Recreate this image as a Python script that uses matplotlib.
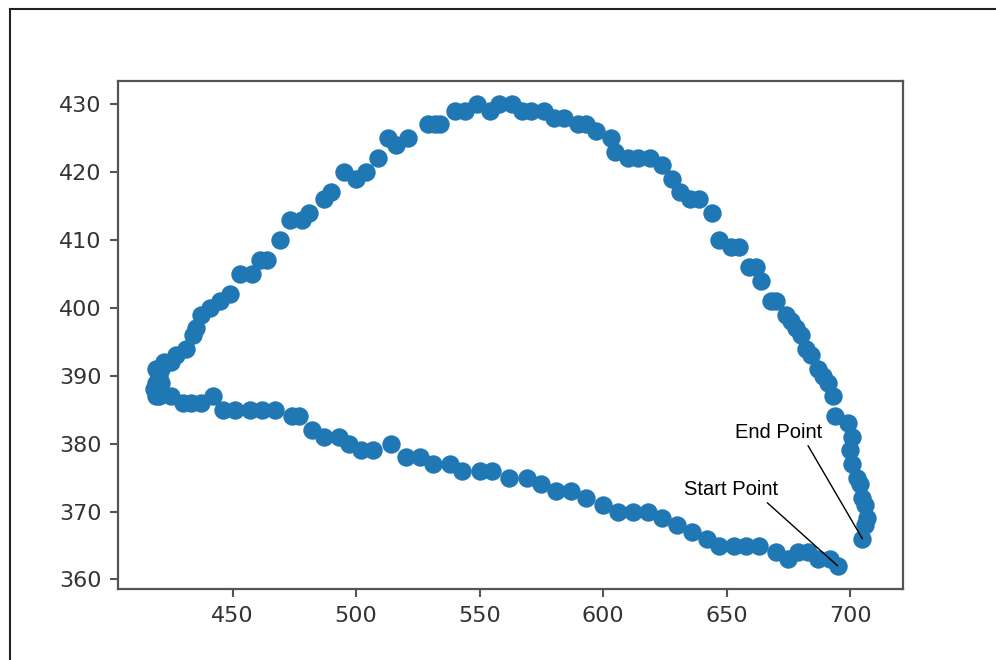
import matplotlib
matplotlib.use("Agg")
import matplotlib.pyplot as plt
from matplotlib.lines import Line2D

# Tracked positions, in order from the start of the path to its end
x_vals = [695, 692, 687, 683, 679, 675, 670, 663, 658, 653, 647, 642, 636, 630,
          624, 618, 612, 606, 600, 593, 587, 581, 575, 569, 562, 555, 550, 543,
          538, 531, 526, 520, 514, 507, 502, 497, 493, 487, 482, 477, 474, 467,
          462, 457, 451, 446, 442, 437, 433, 430, 425, 419,
          420, 419, 418, 420, 419, 421, 421, 422, 420,
          425, 427, 431, 434, 435, 437, 441, 445, 449, 453, 458, 461, 464, 469,
          473, 478, 481, 487, 490, 495, 500, 504, 509, 513, 516, 521, 529, 532,
          534, 540, 544, 549, 554, 558, 563, 567, 571, 576, 580, 584, 590, 593,
          597, 603, 605, 610, 614, 619, 624, 628, 631, 635, 639, 644, 647, 652,
          655, 659, 662, 664, 668, 670, 674, 676, 678, 680, 682, 684, 687, 689,
          691, 693, 694, 699, 701, 700, 701, 703, 704, 705, 706, 707, 706, 705]
y_vals = [362, 363, 363, 364, 364, 363, 364, 365, 365, 365, 365, 366, 367, 368,
          369, 370, 370, 370, 371, 372, 373, 373, 374, 375, 375, 376, 376, 376,
          377, 377, 378, 378, 380, 379, 379, 380, 381, 381, 382, 384, 384, 385,
          385, 385, 385, 385, 387, 386, 386, 386, 387, 387,
          388, 389, 388, 390, 391, 389, 391, 392, 387,
          392, 393, 394, 396, 397, 399, 400, 401, 402, 405, 405, 407, 407, 410,
          413, 413, 414, 416, 417, 420, 419, 420, 422, 425, 424, 425, 427, 427,
          427, 429, 429, 430, 429, 430, 430, 429, 429, 429, 428, 428, 427, 427,
          426, 425, 423, 422, 422, 422, 421, 419, 417, 416, 416, 414, 410, 409,
          409, 406, 406, 404, 401, 401, 399, 398, 397, 396, 394, 393, 391, 390,
          389, 387, 384, 383, 381, 379, 377, 375, 374, 372, 371, 369, 368, 366]

start_label = "Start Point"
end_label = "End Point"

fig = plt.figure(figsize=(9.96, 6.6), dpi=100)
ax = fig.add_axes([0.1185, 0.1076, 0.7881, 0.7697])

ax.scatter(x_vals, y_vals, s=150, color="#1f77b4", zorder=2)

ax.set_xticks([450, 500, 550, 600, 650, 700])
ax.set_yticks([360, 370, 380, 390, 400, 410, 420, 430])
ax.tick_params(labelsize=16, length=6, width=1.5, color="#555555",
               labelcolor="#333333", pad=6)
for sp in ax.spines.values():
    sp.set_color("#555555")
    sp.set_linewidth(1.6)

# Labels for the first and last positions, joined to them by thin lines
ax.text(632.6, 372.5, start_label, family="Liberation Sans", fontsize=14.5,
        va="baseline", ha="left", color="black")
ax.annotate("", xy=(x_vals[0], y_vals[0]), xytext=(666.5, 371.3),
            arrowprops=dict(arrowstyle="-", color="black", lw=1,
                            shrinkA=0, shrinkB=0))
ax.text(653.6, 380.9, end_label, family="Liberation Sans", fontsize=14.5,
        va="baseline", ha="left", color="black")
ax.annotate("", xy=(x_vals[-1], y_vals[-1]), xytext=(683.0, 379.7),
            arrowprops=dict(arrowstyle="-", color="black", lw=1,
                            shrinkA=0, shrinkB=0))

# Outer frame along the top and left edges
fig.add_artist(Line2D([10 / 996, 10 / 996], [0, 1 - 9 / 660],
                      transform=fig.transFigure, color="#222222", lw=1.5))
fig.add_artist(Line2D([10 / 996, 1], [1 - 9 / 660, 1 - 9 / 660],
                      transform=fig.transFigure, color="#222222", lw=1.5))

fig.savefig("out.png", dpi=100)
